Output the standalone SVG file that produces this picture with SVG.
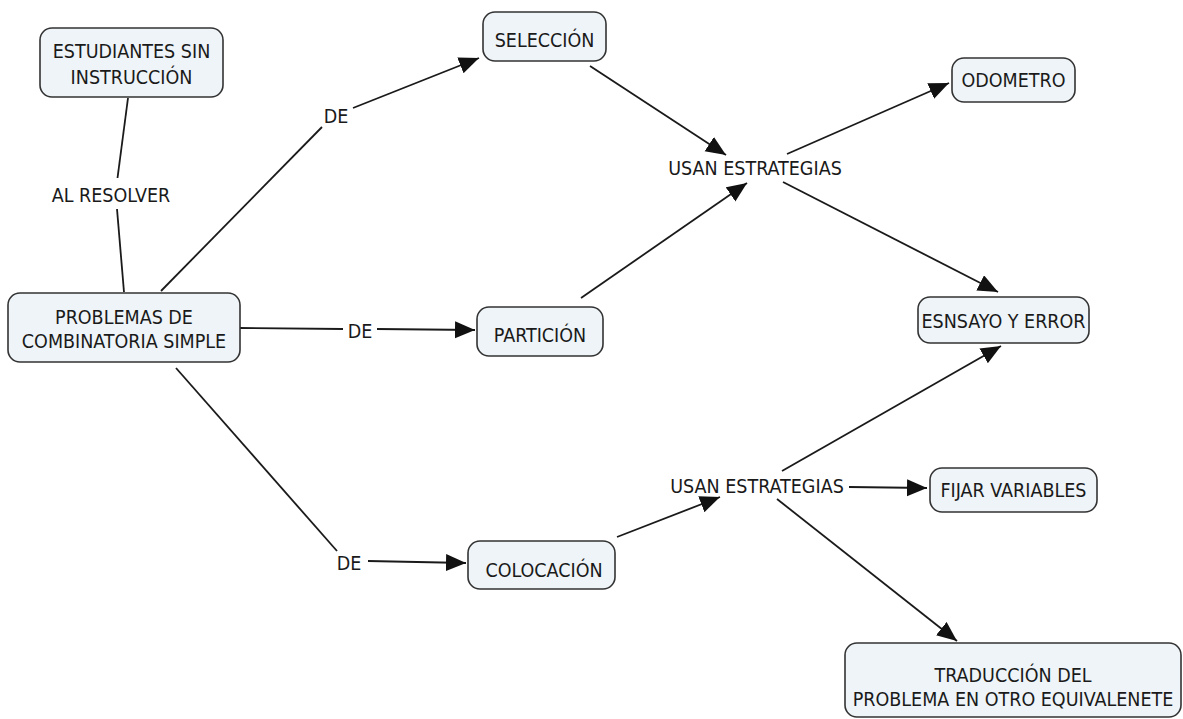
<svg xmlns="http://www.w3.org/2000/svg" width="1183" height="719" viewBox="0 0 1183 719">
<style>
.node rect{fill:#eef4f7;stroke:#333;stroke-width:1.6}
text{font-family:"DejaVu Sans Condensed","DejaVu Sans",sans-serif;font-size:19.5px;fill:#1a1a1a;text-anchor:middle}
.conn line{stroke:#1a1a1a;stroke-width:1.8;fill:none}
.arrow line{marker-end:url(#ah)}
</style>
<defs>
<marker id="ah" markerUnits="userSpaceOnUse" markerWidth="22" markerHeight="18" viewBox="0 0 22 18" refX="20" refY="8.5" orient="auto">
<path d="M0,0 L20,8.5 L0,17 z" fill="#111"/>
</marker>
</defs>
<rect width="1183" height="719" fill="#fff"/>
<g class="conn">
<line x1="128" y1="98" x2="117.5" y2="178"/>
<line x1="117" y1="209" x2="124" y2="292"/>
<line x1="161" y1="291" x2="322" y2="127"/>
<line x1="240" y1="328" x2="343" y2="329"/>
<line x1="176" y1="368" x2="337" y2="551"/>
<g class="arrow">
<line x1="353" y1="108" x2="479" y2="58"/>
<line x1="377" y1="329" x2="475" y2="330"/>
<line x1="368" y1="561" x2="466" y2="563"/>
<line x1="590" y1="66" x2="726" y2="155"/>
<line x1="581" y1="298" x2="747" y2="183"/>
<line x1="787" y1="154" x2="949" y2="83"/>
<line x1="783" y1="182" x2="998" y2="292"/>
<line x1="617" y1="537" x2="720" y2="497"/>
<line x1="782" y1="471" x2="1001" y2="346"/>
<line x1="849" y1="487" x2="927" y2="488"/>
<line x1="777" y1="499" x2="957" y2="641"/>
</g>
</g>
<g id="lbl-al-resolver"><text x="111" y="201.5">AL RESOLVER</text></g>
<g id="lbl-de1"><text x="336" y="123">DE</text></g>
<g id="lbl-de2"><text x="360" y="337.5">DE</text></g>
<g id="lbl-de3"><text x="349" y="569.5">DE</text></g>
<g id="lbl-usan1"><text x="755" y="175">USAN ESTRATEGIAS</text></g>
<g id="lbl-usan2"><text x="757" y="492.5">USAN ESTRATEGIAS</text></g>
<g id="n-estudiantes" class="node"><rect x="40" y="28" width="183" height="69" rx="12"/><text x="131.5" y="58">ESTUDIANTES SIN</text><text x="131.5" y="83.5">INSTRUCCIÓN</text></g>
<g id="n-problemas" class="node"><rect x="8" y="293" width="232" height="69" rx="12"/><text x="124" y="324">PROBLEMAS DE</text><text x="124" y="347.5">COMBINATORIA SIMPLE</text></g>
<g id="n-seleccion" class="node"><rect x="483" y="12" width="123" height="49" rx="12"/><text x="544.5" y="47">SELECCIÓN</text></g>
<g id="n-particion" class="node"><rect x="477" y="307" width="126" height="49" rx="12"/><text x="540" y="342">PARTICIÓN</text></g>
<g id="n-colocacion" class="node"><rect x="468" y="541" width="147" height="48" rx="12"/><text x="544" y="576.5">COLOCACIÓN</text></g>
<g id="n-odometro" class="node"><rect x="952" y="58" width="123" height="44" rx="12"/><text x="1013.5" y="87">ODOMETRO</text></g>
<g id="n-ensayo" class="node"><rect x="918" y="297" width="171" height="46" rx="12"/><text x="1003.5" y="327.5">ESNSAYO Y ERROR</text></g>
<g id="n-fijar" class="node"><rect x="930" y="468" width="167" height="44" rx="12"/><text x="1013.5" y="497">FIJAR VARIABLES</text></g>
<g id="n-traduccion" class="node"><rect x="845" y="643" width="336" height="74" rx="12"/><text x="1013" y="682">TRADUCCIÓN DEL</text><text x="1013" y="705.5">PROBLEMA EN OTRO EQUIVALENETE</text></g>
</svg>
